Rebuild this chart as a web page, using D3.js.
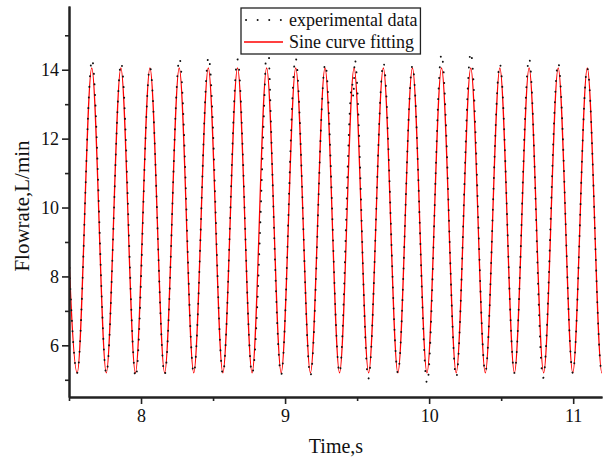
<!DOCTYPE html>
<html>
<head>
  <title>Flowrate</title>
  <meta charset="utf-8">
  <script src="https://cdn.jsdelivr.net/npm/d3@7"></script>
  <style type="text/css">
    body {
      margin: 0;
      background: #fff;
    }
    text {
      font-family: "Liberation Serif", "Times New Roman", serif;
      fill: #111;
    }
  </style>
</head>
<body>
  <div id="chart"></div>
<script type="text/javascript">
  // sine fit, read at its crests and troughs (the ends lie outside the axes and get clipped)
  const fitTime = [7.455, 7.557, 7.658, 7.759, 7.860, 7.961, 8.062, 8.164, 8.265, 8.366,
                   8.467, 8.568, 8.670, 8.771, 8.872, 8.973, 9.074, 9.176, 9.277, 9.378,
                   9.479, 9.580, 9.682, 9.783, 9.884, 9.985, 10.086, 10.188, 10.289, 10.390,
                   10.491, 10.592, 10.694, 10.795, 10.896, 10.997, 11.098, 11.199, 11.300];
  const fitFlow = [14.05, 5.2, 14.05, 5.2, 14.05, 5.2, 14.05, 5.2, 14.05, 5.2,
                   14.05, 5.2, 14.05, 5.2, 14.05, 5.2, 14.05, 5.2, 14.05, 5.2,
                   14.05, 5.2, 14.05, 5.2, 14.05, 5.2, 14.05, 5.2, 14.05, 5.2,
                   14.05, 5.2, 14.05, 5.2, 14.05, 5.2, 14.05, 5.2, 14.05];

  // measured flow, turning points and the odd spikes
  const expTime = [7.455, 7.557, 7.660, 7.759, 7.862, 7.963, 8.062, 8.164, 8.267, 8.366,
                   8.469, 8.568, 8.670, 8.771, 8.864, 8.878, 8.890, 8.973, 9.073, 9.176,
                   9.279, 9.378, 9.466, 9.474, 9.484, 9.578, 9.683, 9.783, 9.884, 9.986,
                   10.086, 10.188, 10.289, 10.390, 10.491, 10.592, 10.694, 10.791, 10.896, 10.997,
                   11.098, 11.199, 11.300];
  const expFlow = [14.1, 5.2, 14.3, 5.18, 14.2, 5.07, 14.08, 5.15, 14.33, 5.2,
                   14.37, 5.17, 14.3, 5.18, 14.1, 15.8, 14.15, 5.15, 14.34, 5.12,
                   14.17, 5.2, 13.6, 13.2, 14.3, 5.03, 14.2, 5.2, 14.12, 4.9,
                   14.45, 5.08, 14.5, 5.22, 14.17, 5.2, 14.33, 5.05, 14.2, 5.2,
                   14.05, 5.2, 14.05];

  const xMajorTicks = [8, 9, 10, 11];
  const xMinorTicks = [7.5, 8.5, 9.5, 10.5];
  const yMajorTicks = [6, 8, 10, 12, 14];
  const yMinorTicks = [5, 7, 9, 11, 13, 15];
  const legendLabels = ['experimental data', 'Sine curve fitting'];

  const width = 611, height = 462;
  const margin = { top: 6, right: 9, bottom: 65, left: 69 };
  const serif = '"Liberation Serif", "Times New Roman", serif';

  const svg = d3.select('#chart').append('svg')
    .attr('width', width)
    .attr('height', height);

  const x = d3.scaleLinear().domain([7.5, 11.2]).range([margin.left, width - margin.right]);
  const y = d3.scaleLinear().domain([4.5, 15.85]).range([height - margin.bottom, margin.top]);

  svg.append('clipPath').attr('id', 'plot-clip')
    .append('rect')
      .attr('x', margin.left)
      .attr('y', margin.top)
      .attr('width', width - margin.left - margin.right)
      .attr('height', height - margin.top - margin.bottom);

  const line = d3.line()
    .x(d => x(d[0]))
    .y(d => y(d[1]))
    .curve(d3.curveMonotoneX);

  const fitData = fitTime.map((t, i) => [t, fitFlow[i]]);
  const expData = expTime.map((t, i) => [t, expFlow[i]]);

  const plot = svg.append('g').attr('clip-path', 'url(#plot-clip)');
  plot.append('path')
    .attr('d', line(fitData))
    .attr('fill', 'none')
    .attr('stroke', '#ff0000')
    .attr('stroke-width', 1.3);
  plot.append('path')
    .attr('d', line(expData))
    .attr('fill', 'none')
    .attr('stroke', '#111')
    .attr('stroke-width', 1.9)
    .attr('stroke-linecap', 'round')
    .attr('stroke-dasharray', '0.1 10.5');

  // axes: major ticks with labels, minor ticks without
  const styleAxis = g => {
    g.attr('font-family', serif);
    g.selectAll('path, line').attr('stroke', '#222');
    g.select('.domain').attr('stroke-width', 2);
    g.selectAll('.tick line').attr('stroke-width', 1.6);
    g.selectAll('text')
      .attr('font-size', 18)
      .attr('fill', '#111')
      .style('font-family', serif);
  };

  svg.append('g')
    .attr('transform', `translate(0,${height - margin.bottom})`)
    .call(d3.axisBottom(x).tickValues(xMinorTicks).tickSize(4).tickSizeOuter(0).tickFormat(''))
    .call(styleAxis);
  svg.append('g')
    .attr('transform', `translate(0,${height - margin.bottom})`)
    .call(d3.axisBottom(x).tickValues(xMajorTicks).tickSize(7).tickSizeOuter(0).tickPadding(5).tickFormat(d3.format('d')))
    .call(styleAxis);

  svg.append('g')
    .attr('transform', `translate(${margin.left},0)`)
    .call(d3.axisLeft(y).tickValues(yMinorTicks).tickSize(4).tickSizeOuter(0).tickFormat(''))
    .call(styleAxis);
  svg.append('g')
    .attr('transform', `translate(${margin.left},0)`)
    .call(d3.axisLeft(y).tickValues(yMajorTicks).tickSize(7).tickSizeOuter(0).tickPadding(3).tickFormat(d3.format('d')))
    .call(styleAxis);

  svg.append('text')
    .attr('x', 336)
    .attr('y', 453)
    .attr('text-anchor', 'middle')
    .attr('font-size', 20)
    .text('Time,s');

  svg.append('text')
    .attr('transform', 'translate(29,206) rotate(-90)')
    .attr('text-anchor', 'middle')
    .attr('font-size', 21)
    .text('Flowrate,L/min');

  // legend, box sized to its text
  const legend = svg.append('g').attr('transform', 'translate(241,8)');
  const box = legend.append('rect')
    .attr('height', 46)
    .attr('fill', '#fff')
    .attr('stroke', '#222')
    .attr('stroke-width', 1.3);
  legend.append('line')
    .attr('x1', 5).attr('x2', 42).attr('y1', 12).attr('y2', 12)
    .attr('stroke', '#111')
    .attr('stroke-width', 1.9)
    .attr('stroke-linecap', 'round')
    .attr('stroke-dasharray', '0.1 11.5');
  legend.append('line')
    .attr('x1', 3).attr('x2', 42).attr('y1', 34).attr('y2', 34)
    .attr('stroke', '#ff0000')
    .attr('stroke-width', 1.3);
  const labels = legend.selectAll('text.label').data(legendLabels).enter()
    .append('text')
      .attr('class', 'label')
      .attr('x', 48)
      .attr('y', (d, i) => 18 + i * 22)
      .attr('font-size', 18)
      .text(d => d);
  let textWidth = 0;
  labels.each(function () { textWidth = Math.max(textWidth, this.getComputedTextLength()); });
  box.attr('width', 48 + textWidth + 3);
</script>
</body>
</html>
